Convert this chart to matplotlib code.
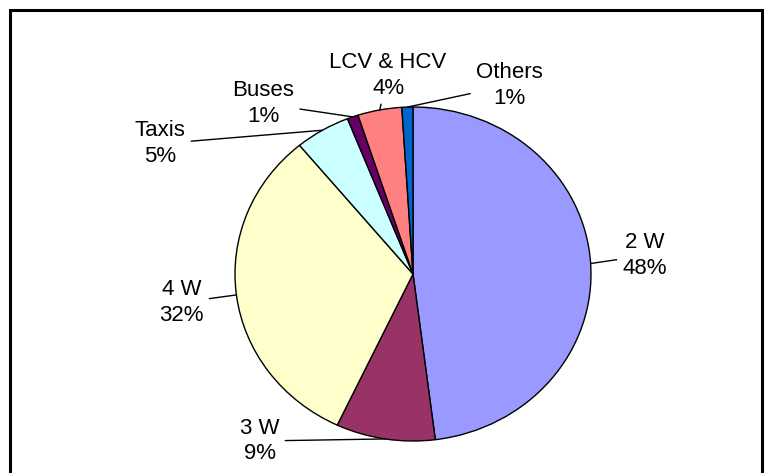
import numpy as np
import matplotlib.pyplot as plt
from matplotlib.patches import Rectangle

plt.rcParams['font.family'] = ['Liberation Sans', 'DejaVu Sans']

categories = ['2 W', '3 W', '4 W', 'Taxis', 'Buses', 'LCV & HCV', 'Others']
shares = [48, 9, 32, 5, 1, 4, 1]
colors = ['#9999FF', '#993366', '#FFFFCC', '#CCFFFF', '#660066', '#FF8080', '#0066CC']

# label centres in axes data units (pie radius = 1)
label_pos = [(1.30, 0.11), (-0.86, -1.0), (-1.30, -0.17), (-1.42, 0.78),
             (-0.84, 1.02), (-0.14, 1.19), (0.54, 1.13)]

W, H = 772, 473
fig = plt.figure(figsize=(W / 100, H / 100), dpi=100)

# pie is slightly wider than tall in the reference
cx, cy, rx, ry = 413, 274, 178, 167
ax = fig.add_axes([(cx - rx) / W, (H - cy - ry) / H, 2 * rx / W, 2 * ry / H])

wedges, _ = ax.pie(shares, colors=colors, startangle=90, counterclock=False,
                   wedgeprops=dict(edgecolor='black', linewidth=1.0))
ax.set_aspect('auto')
ax.set_xlim(-1, 1)
ax.set_ylim(-1, 1)
ax.axis('off')

cum = np.cumsum([0] + shares) / sum(shares)
for i, name in enumerate(categories):
    mid = (cum[i] + cum[i + 1]) / 2
    ang = np.deg2rad(90 - 360 * mid)
    xy = (np.cos(ang), np.sin(ang))
    ax.annotate('%s\n%d%%' % (name, shares[i]), xy=xy, xytext=label_pos[i],
                ha='center', va='center', fontsize=16, linespacing=1.3,
                annotation_clip=False,
                arrowprops=dict(arrowstyle='-', color='black', lw=1.0,
                                shrinkA=2, shrinkB=0))

# outer frame (bottom edge is cut off in the reference)
fig.patches.append(Rectangle((9.5 / W, -0.05), (762 - 9.5) / W, 1.05 - 10.5 / H,
                             transform=fig.transFigure, fill=False,
                             edgecolor='black', linewidth=2.2))

fig.savefig('out.png', dpi=100, facecolor='white')
